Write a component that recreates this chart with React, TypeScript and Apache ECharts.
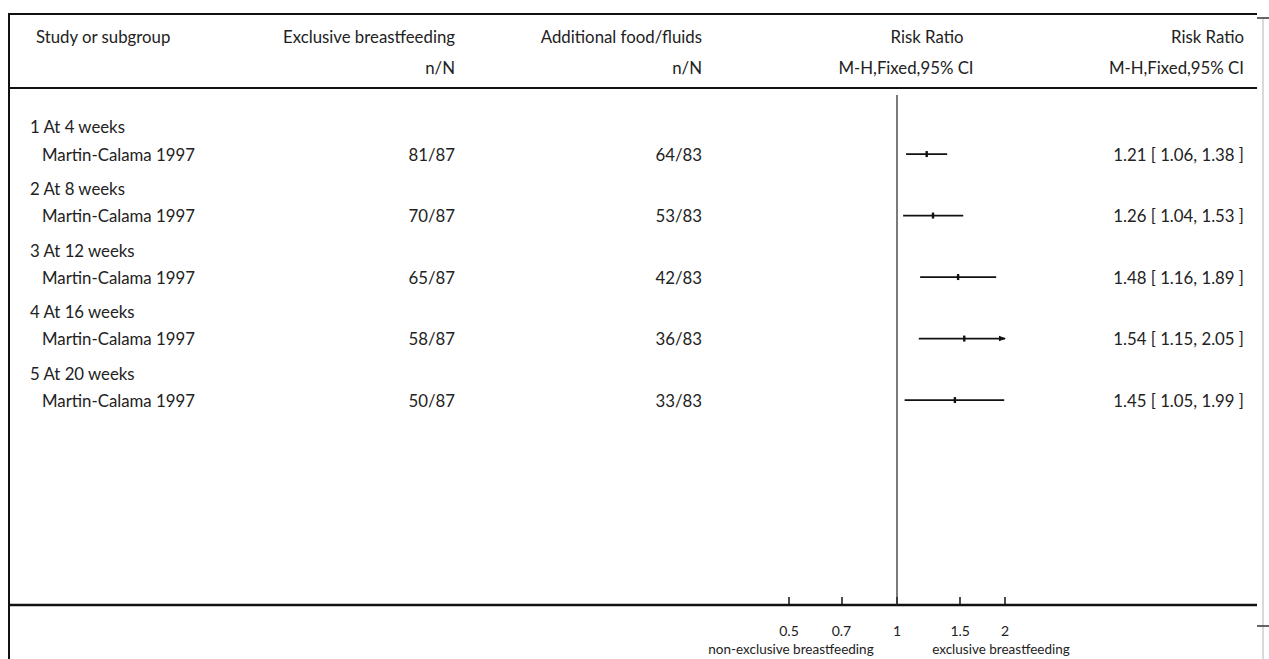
import React, { useEffect, useRef } from "react";
import * as echarts from "echarts";

// ---------- data ----------
const groupLabels = ["1 At 4 weeks", "2 At 8 weeks", "3 At 12 weeks", "4 At 16 weeks", "5 At 20 weeks"];
const studyNames = ["Martin-Calama 1997", "Martin-Calama 1997", "Martin-Calama 1997", "Martin-Calama 1997", "Martin-Calama 1997"];
const expEvents = [81, 70, 65, 58, 50];
const expTotal = [87, 87, 87, 87, 87];
const ctlEvents = [64, 53, 42, 36, 33];
const ctlTotal = [83, 83, 83, 83, 83];
const riskRatio = [1.21, 1.26, 1.48, 1.54, 1.45];
const ciLow = [1.06, 1.04, 1.16, 1.15, 1.05];
const ciHigh = [1.38, 1.53, 1.89, 2.05, 1.99];
const xTicks = [0.5, 0.7, 1, 1.5, 2];
const X_MIN = 0.5;
const X_MAX = 2;

// ---------- layout ----------
const W = 1269;
const H = 659;
const FONT = "Lato, 'Open Sans', sans-serif";
const TXT = "#222";
const FS = 16.8;
const STUDY_OFFSET = 0.44;
const Y_MIN = -0.634;
const Y_MAX = 7.772;

const COL_GROUP = 30;
const COL_STUDY = 42;
const COL_EXP = 455;
const COL_CTL = 702;
const COL_RR = 1244;

const fmt = (v: number) => v.toFixed(2);

export default function App() {
  const ref = useRef<HTMLDivElement>(null);

  useEffect(() => {
    if (!ref.current) return;
    const chart = echarts.init(ref.current, undefined, { renderer: "svg" });

    const txt = (text: string, x: number, y: number, align: string, fontSize = FS) => ({
      type: "text",
      silent: true,
      style: { text, x, y, align, verticalAlign: "middle", fill: TXT, fontSize, fontFamily: FONT },
    });
    const ln = (x1: number, y1: number, x2: number, y2: number, w = 2, c = "#111") => ({
      type: "line",
      silent: true,
      shape: { x1, y1, x2, y2 },
      style: { stroke: c, lineWidth: w },
    });

    const option: any = {
      animation: false,
      backgroundColor: "#fff",
      grid: { left: 789, right: W - 1005, top: 88, bottom: H - 605 },
      xAxis: {
        type: "log",
        logBase: 10,
        min: X_MIN,
        max: X_MAX,
        position: "bottom",
        axisLine: { show: false, onZero: false },
        splitLine: { show: false },
        minorTick: { show: false },
        axisTick: {
          show: true,
          inside: true,
          length: 8,
          customValues: xTicks,
          lineStyle: { color: "#111", width: 1.5 },
        },
        axisLabel: {
          customValues: xTicks,
          margin: 18,
          color: TXT,
          fontSize: 14,
          fontFamily: FONT,
          formatter: (v: number) => String(v),
        },
      },
      yAxis: { type: "value", inverse: true, min: Y_MIN, max: Y_MAX, show: false },
      series: [
        {
          type: "custom",
          clip: false,
          silent: true,
          encode: { x: 0, y: 1 },
          data: riskRatio.map((v, i) => [v, i]),
          renderItem: (params: any, api: any) => {
            const i = params.dataIndex;
            const yG = api.coord([1, i])[1];
            const yS = api.coord([1, i + STUDY_OFFSET])[1];
            const x1 = api.coord([Math.max(ciLow[i], X_MIN), i])[0];
            const x2 = api.coord([Math.min(ciHigh[i], X_MAX), i])[0];
            const xp = api.coord([riskRatio[i], i])[0];
            const children: any[] = [];
            if (i === 0) {
              const xr = api.coord([1, 0])[0];
              const cs = params.coordSys;
              children.push(ln(xr, api.coord([1, -0.52])[1], xr, cs.y + cs.height, 1.3, "#333"));
            }
            children.push(ln(x1, yS, x2, yS, 1.8, "#111"));
            children.push({
              type: "rect",
              shape: { x: xp - 1.2, y: yS - 3, width: 2.4, height: 6 },
              style: { fill: "#111" },
            });
            if (ciHigh[i] > X_MAX) {
              children.push({
                type: "polygon",
                shape: { points: [[x2 + 1, yS], [x2 - 6, yS - 2.8], [x2 - 6, yS + 2.8]] },
                style: { fill: "#111" },
              });
            }
            children.push(txt(groupLabels[i], COL_GROUP, yG, "left"));
            children.push(txt(studyNames[i], COL_STUDY, yS, "left"));
            children.push(txt(`${expEvents[i]}/${expTotal[i]}`, COL_EXP, yS, "right"));
            children.push(txt(`${ctlEvents[i]}/${ctlTotal[i]}`, COL_CTL, yS, "right"));
            children.push(
              txt(`${fmt(riskRatio[i])} [ ${fmt(ciLow[i])}, ${fmt(ciHigh[i])} ]`, COL_RR, yS, "right")
            );
            return { type: "group", children };
          },
        },
      ],
      graphic: [
        // frame
        ln(8, 14, 1257, 14, 2),
        ln(9, 14, 9, 659, 2),
        ln(9, 88, 1257, 88, 2),
        ln(9, 605, 1257, 605, 2.5),
        ln(1263, 19, 1263, 659, 1.5, "#ccc"),
        ln(1257, 18, 1269, 18, 1.5, "#333"),
        ln(1257, 626, 1269, 626, 1.5, "#333"),
        // header
        txt("Study or subgroup", 36, 36, "left"),
        txt("Exclusive breastfeeding", COL_EXP, 36, "right"),
        txt("n/N", COL_EXP, 67, "right"),
        txt("Additional food/fluids", COL_CTL, 36, "right"),
        txt("n/N", COL_CTL, 67, "right"),
        txt("Risk Ratio", 927, 36, "center"),
        txt("M-H,Fixed,95% CI", 906, 67, "center"),
        txt("Risk Ratio", COL_RR, 36, "right"),
        txt("M-H,Fixed,95% CI", COL_RR, 67, "right"),
        // direction labels
        txt("non-exclusive breastfeeding", 791, 649, "center", 13.5),
        txt("exclusive breastfeeding", 1001, 649, "center", 13.5),
      ],
    };

    chart.setOption(option);
    return () => chart.dispose();
  }, []);

  return (
    <div
      ref={ref}
      style={{ position: "fixed", left: 0, top: 0, width: W, height: H, background: "#fff" }}
    />
  );
}
